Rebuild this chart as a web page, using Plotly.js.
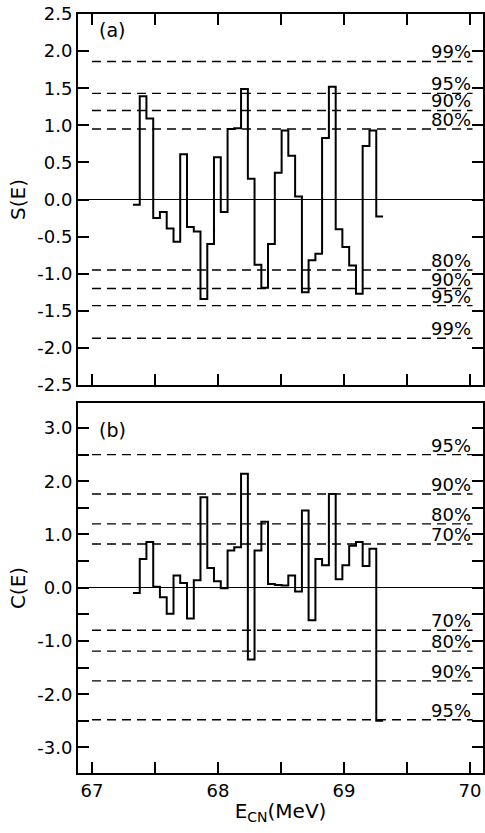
<!DOCTYPE html>
<html>
<head>
<meta charset="utf-8">
<script src="https://cdn.plot.ly/plotly-3.0.1.min.js"></script>
<style>
html,body{margin:0;padding:0;background:#fff;}
#chart{width:485px;height:833px;}
</style>
</head>
<body>
<div id="chart"></div>
<script>
// Bin-centre energies E_CN (MeV)
const energy = [67.352, 67.406, 67.459, 67.513, 67.566, 67.620, 67.674, 67.727, 67.781, 67.835,
                67.888, 67.942, 67.995, 68.049, 68.103, 68.156, 68.210, 68.264, 68.317, 68.371,
                68.424, 68.478, 68.532, 68.585, 68.639, 68.693, 68.746, 68.800, 68.853, 68.907,
                68.961, 69.014, 69.068, 69.122, 69.175, 69.229, 69.283];
// Panel (a): S(E)
const sValues = [-0.07, 1.39, 1.09, -0.25, -0.17, -0.39, -0.57, 0.61, -0.37, -0.43,
                 -1.34, -0.60, 0.57, -0.17, 0.95, 0.96, 1.49, 0.28, -0.88, -1.19,
                 -0.60, 0.36, 0.93, 0.59, 0.04, -1.25, -0.82, -0.73, 0.83, 1.52,
                 -0.40, -0.64, -0.89, -1.27, 0.72, 0.93, -0.23];
// Panel (b): C(E)
const cValues = [-0.10, 0.54, 0.86, 0.02, -0.18, -0.49, 0.23, 0.09, -0.58, 0.14,
                 1.70, 0.37, 0.12, -0.01, 0.70, 0.76, 2.14, -1.35, 0.70, 1.24,
                 0.07, 0.05, 0.04, 0.23, -0.07, 1.45, -0.61, 0.54, 0.42, 1.76,
                 0.16, 0.42, 0.79, 0.86, 0.41, 0.73, -2.50];
// Confidence levels
const sLevels = [1.86, 1.43, 1.20, 0.95, -0.95, -1.20, -1.43, -1.87];
const sLevelLabels = ['99%', '95%', '90%', '80%', '80%', '90%', '95%', '99%'];
const cLevels = [2.50, 1.76, 1.20, 0.82, -0.80, -1.19, -1.75, -2.48];
const cLevelLabels = ['95%', '90%', '80%', '70%', '70%', '80%', '90%', '95%'];
// Tick labels
const xTickVals = [67, 67.5, 68, 68.5, 69, 69.5, 70];
const xTickText = ['67', '', '68', '', '69', '', '70'];
const sTickVals = [2.5, 2.0, 1.5, 1.0, 0.5, 0.0, -0.5, -1.0, -1.5, -2.0, -2.5];
const sTickText = ['2.5', '2.0', '1.5', '1.0', '0.5', '0.0', '-0.5', '-1.0', '-1.5', '-2.0', '-2.5'];
const cTickVals = [3.0, 2.5, 2.0, 1.5, 1.0, 0.5, 0.0, -0.5, -1.0, -1.5, -2.0, -2.5, -3.0];
const cTickText = ['3.0', '', '2.0', '', '1.0', '', '0.0', '', '-1.0', '', '-2.0', '', '-3.0'];

const FONT = 'DejaVu Sans, sans-serif';
const lineStart = 67.0, lineEnd = 70.02;

function stepTrace(vals, xa, ya) {
  const half = (energy[1] - energy[0]) / 2;
  const xs = energy.map(e => e - half);
  xs.push(energy[energy.length - 1] + half);
  const ys = vals.slice();
  ys.push(vals[vals.length - 1]);
  return {x: xs, y: ys, xaxis: xa, yaxis: ya, mode: 'lines',
          line: {shape: 'hv', color: '#000', width: 2}, hoverinfo: 'skip', showlegend: false};
}
function levelTraces(levels, xa, ya) {
  return levels.map(l => ({x: [lineStart, lineEnd], y: [l, l], xaxis: xa, yaxis: ya, mode: 'lines',
    line: {color: '#000', width: 1.4, dash: '9px,6px'}, hoverinfo: 'skip', showlegend: false}));
}
function levelNotes(levels, labels, xa, ya) {
  return levels.map((l, i) => ({x: lineEnd, y: l, xref: xa, yref: ya, text: labels[i],
    showarrow: false, xanchor: 'right', yanchor: 'bottom', yshift: -3,
    font: {family: FONT, size: 18, color: '#000'}}));
}

const data = [].concat(
  levelTraces(sLevels, 'x2', 'y2'),
  levelTraces(cLevels, 'x', 'y'),
  [stepTrace(sValues, 'x2', 'y2'), stepTrace(cValues, 'x', 'y')]
);

const axisCommon = {showgrid: false, showline: true, linecolor: '#000', linewidth: 2,
  ticks: 'inside', ticklen: 11, tickwidth: 2, tickcolor: '#000',
  tickfont: {family: FONT, size: 18, color: '#000'}};

const layout = {
  width: 485, height: 833,
  margin: {l: 78, r: 2, t: 14, b: 60},
  paper_bgcolor: '#fff', plot_bgcolor: '#fff',
  font: {family: FONT, color: '#000'},
  xaxis: Object.assign({}, axisCommon, {domain: [0, 1], anchor: 'y', range: [66.889, 70.103],
    tickmode: 'array', tickvals: xTickVals, ticktext: xTickText, mirror: true,
    title: {text: 'E<sub>CN</sub>(MeV)', font: {family: FONT, size: 20, color: '#000'}, standoff: 4}}),
  xaxis2: Object.assign({}, axisCommon, {domain: [0, 1], anchor: 'y2', matches: 'x', range: [66.889, 70.103],
    tickmode: 'array', tickvals: xTickVals, ticktext: xTickText, mirror: 'ticks', showticklabels: false}),
  yaxis: Object.assign({}, axisCommon, {domain: [0, 0.4875], anchor: 'x', range: [-3.48, 3.47],
    tickmode: 'array', tickvals: cTickVals, ticktext: cTickText, mirror: 'ticks',
    zeroline: true, zerolinecolor: '#000', zerolinewidth: 1.5,
    title: {text: 'C(E)', font: {family: FONT, size: 20, color: '#000'}, standoff: 6}}),
  yaxis2: Object.assign({}, axisCommon, {domain: [0.5112, 1], anchor: 'x2', range: [-2.5, 2.5],
    tickmode: 'array', tickvals: sTickVals, ticktext: sTickText, mirror: 'ticks',
    zeroline: true, zerolinecolor: '#000', zerolinewidth: 1.5,
    title: {text: 'S(E)', font: {family: FONT, size: 20, color: '#000'}, standoff: 6}}),
  annotations: [].concat(
    levelNotes(sLevels, sLevelLabels, 'x2', 'y2'),
    levelNotes(cLevels, cLevelLabels, 'x', 'y'),
    [{x: 67.04, y: 2.28, xref: 'x2', yref: 'y2', text: '(a)', showarrow: false, xanchor: 'left', yanchor: 'middle',
      font: {family: FONT, size: 19, color: '#000'}},
     {x: 67.04, y: 2.96, xref: 'x', yref: 'y', text: '(b)', showarrow: false, xanchor: 'left', yanchor: 'middle',
      font: {family: FONT, size: 19, color: '#000'}}]
  )
};

Plotly.newPlot('chart', data, layout, {displayModeBar: false, staticPlot: true});
</script>
</body>
</html>
